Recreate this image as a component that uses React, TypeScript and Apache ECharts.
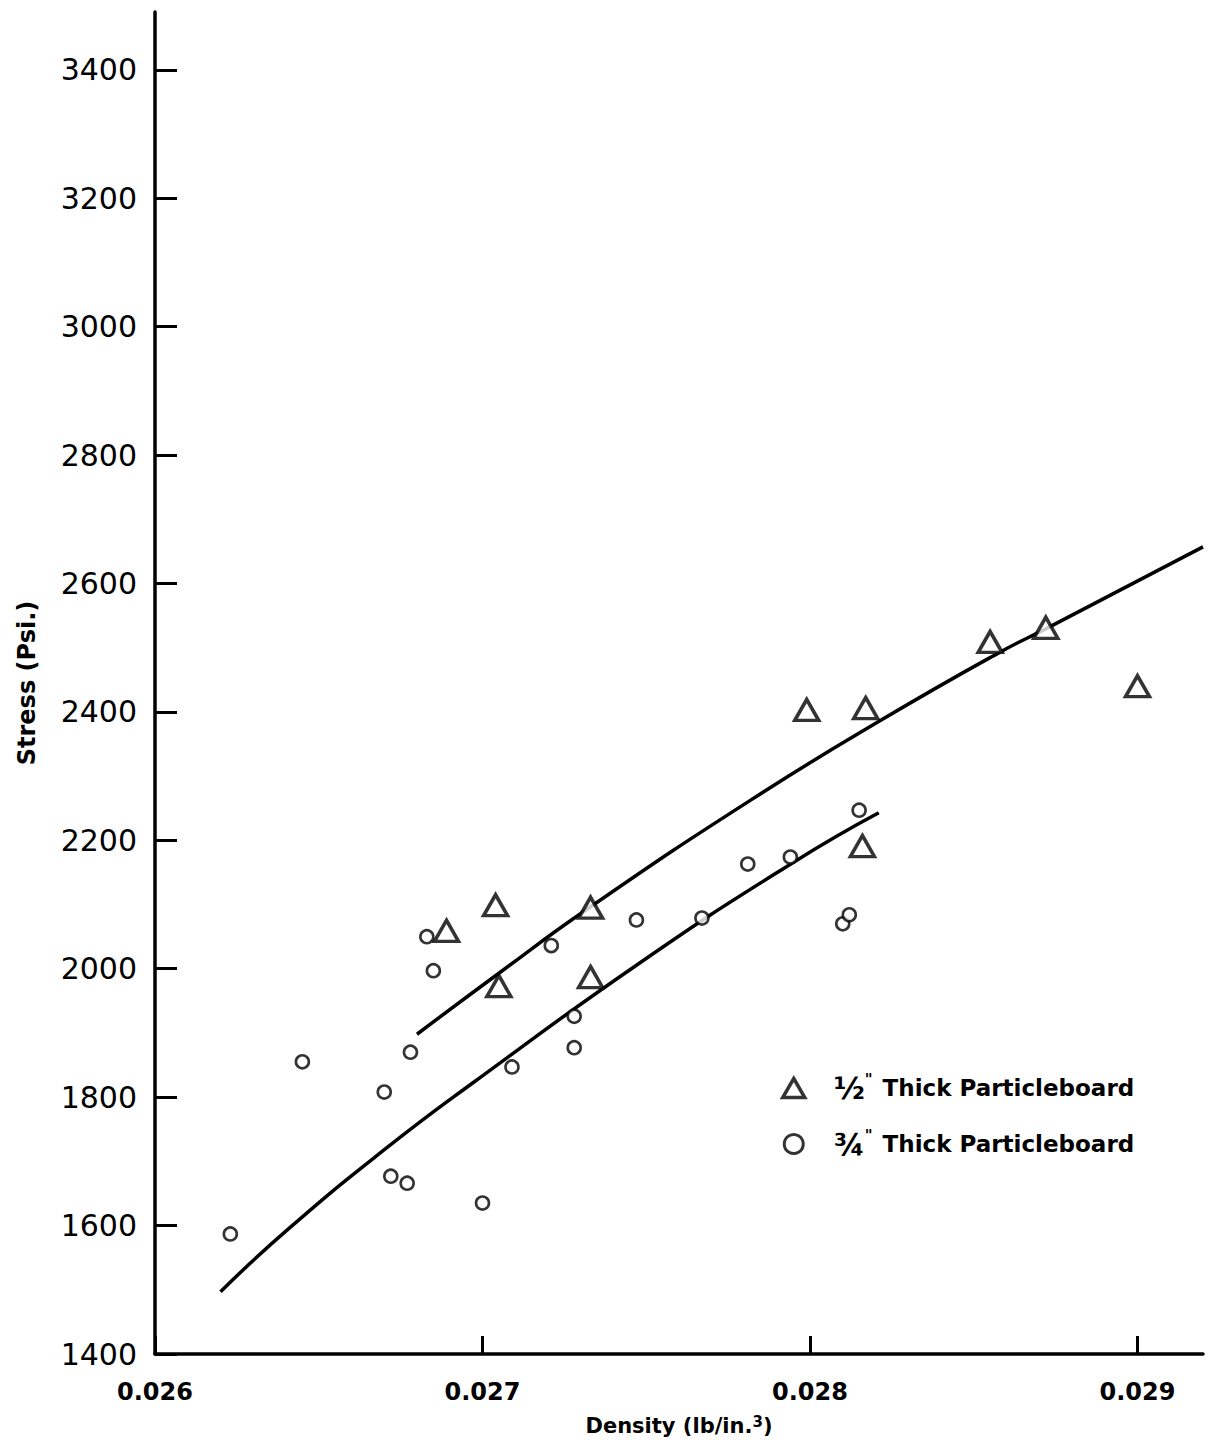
import React, { useEffect, useRef } from 'react';
import * as echarts from 'echarts';

// ---- Data ----
const xTicks = [0.026, 0.027, 0.028, 0.029];
const yTicks = [1400, 1600, 1800, 2000, 2200, 2400, 2600, 2800, 3000, 3200, 3400];

const HALF = '1/2" Thick Particleboard';
const THREE_Q = '3/4" Thick Particleboard';

// 1/2" thick particleboard (triangles)
const halfDensity = [0.02689, 0.02704, 0.02705, 0.02733, 0.02733, 0.02799, 0.02817, 0.02816, 0.02855, 0.02872, 0.029];
const halfStress = [2059, 2099, 1973, 2095, 1987, 2403, 2406, 2191, 2509, 2531, 2440];

// 3/4" thick particleboard (circles)
const tqDensity = [0.02623, 0.02645, 0.0267, 0.02672, 0.02677, 0.02678, 0.02683, 0.02685, 0.027, 0.02709, 0.02721, 0.02728, 0.02728, 0.02747, 0.02767, 0.02781, 0.02794, 0.0281, 0.02812, 0.02815];
const tqStress = [1587, 1855, 1808, 1677, 1666, 1870, 2050, 1997, 1635, 1847, 2036, 1926, 1877, 2076, 2079, 2163, 2174, 2070, 2084, 2247];

// Fitted curves
const halfFitDensity = [0.0268, 0.02705, 0.02732, 0.02782, 0.02822, 0.02858, 0.02873, 0.0292];
const halfFitStress = [1898, 1993, 2093, 2263, 2388, 2493, 2532, 2657];
const tqFitDensity = [0.0262, 0.02641, 0.02671, 0.02697, 0.02748, 0.02795, 0.02821];
const tqFitStress = [1497, 1596, 1722, 1822, 2009, 2166, 2243];

const zip = (a: number[], b: number[]) => a.map((v, i) => [v, b[i]]);

const FONT = 'DejaVu Sans';

export default function App() {
  const ref = useRef<HTMLDivElement>(null);

  useEffect(() => {
    if (!ref.current) return;
    const chart = echarts.init(ref.current, undefined, { renderer: 'svg' });
    chart.setOption({
      animation: false,
      backgroundColor: '#ffffff',
      grid: { left: 155, right: 6, top: 12, bottom: 89, outerBoundsMode: 'none' },
      xAxis: {
        type: 'value',
        min: xTicks[0],
        max: 0.0292,
        interval: 0.001,
        name: 'Density (lb/in.{sup|3})',
        nameLocation: 'middle',
        nameGap: 60,
        nameTextStyle: {
          fontFamily: FONT,
          fontWeight: 'bold',
          fontSize: 21,
          color: '#000',
          rich: {
            sup: { fontFamily: FONT, fontWeight: 'bold', fontSize: 15, color: '#000', verticalAlign: 'top', padding: [0, 0, 8, 0] },
          },
        },
        axisLine: { show: true, onZero: false, lineStyle: { color: '#000', width: 3.5 } },
        axisTick: { show: true, inside: true, length: 18, lineStyle: { color: '#000', width: 3 } },
        axisLabel: {
          showMaxLabel: false,
          margin: 26,
          fontFamily: FONT,
          fontWeight: 'bold',
          fontSize: 24,
          color: '#000',
          formatter: (v: number) => {
            const t = xTicks.find((k) => Math.abs(k - v) < 1e-7);
            return t === undefined ? '' : t.toFixed(3);
          },
        },
        splitLine: { show: false },
      },
      yAxis: {
        type: 'value',
        min: yTicks[0],
        max: 3490,
        interval: 200,
        name: 'Stress (Psi.)',
        nameLocation: 'middle',
        nameGap: 116,
        nameTextStyle: { fontFamily: FONT, fontWeight: 'bold', fontSize: 24, color: '#000' },
        axisLine: { show: true, onZero: false, lineStyle: { color: '#000', width: 3.5 } },
        axisTick: { show: true, inside: true, length: 22, lineStyle: { color: '#000', width: 3 } },
        axisLabel: {
          showMaxLabel: false,
          margin: 18,
          fontFamily: FONT,
          fontSize: 30,
          color: '#000',
          formatter: (v: number) => (yTicks.includes(v) ? String(v) : ''),
        },
        splitLine: { show: false },
      },
      legend: {
        orient: 'vertical',
        left: 776,
        top: 1067,
        itemWidth: 22,
        itemHeight: 19,
        itemGap: 25,
        data: [
          { name: HALF, icon: 'triangle', itemStyle: { color: '#ffffff', borderColor: '#000', borderWidth: 3.5 } },
          { name: THREE_Q, icon: 'circle', itemStyle: { color: '#ffffff', borderColor: '#000', borderWidth: 3 } },
        ],
        formatter: (name: string) =>
          name === HALF ? '{f|½}{q|"}{t|Thick Particleboard}' : '{f|¾}{q|"}{t|Thick Particleboard}',
        textStyle: {
          rich: {
            f: { fontFamily: FONT, fontWeight: 'bold', fontSize: 30, color: '#000', padding: [0, 0, 0, 24], lineHeight: 32 },
            q: { fontFamily: FONT, fontWeight: 'bold', fontSize: 15, color: '#000', verticalAlign: 'top', padding: [0, 0, 0, 0] },
            t: { fontFamily: FONT, fontWeight: 'bold', fontSize: 23, color: '#000', padding: [0, 0, 0, 10] },
          },
        },
      },
      series: [
        {
          name: HALF,
          type: 'scatter',
          symbol: 'triangle',
          symbolSize: [24, 21],
          itemStyle: { color: '#ffffff', borderColor: '#000', borderWidth: 3.5 },
          data: zip(halfDensity, halfStress),
          z: 3,
        },
        {
          name: THREE_Q,
          type: 'scatter',
          symbol: 'circle',
          symbolSize: 13,
          itemStyle: { color: '#ffffff', borderColor: '#000', borderWidth: 2.6 },
          data: zip(tqDensity, tqStress),
          z: 3,
        },
        {
          name: 'fit-half',
          type: 'line',
          smooth: true,
          showSymbol: false,
          lineStyle: { color: '#000', width: 3.5 },
          data: zip(halfFitDensity, halfFitStress),
          z: 2,
        },
        {
          name: 'fit-threeq',
          type: 'line',
          smooth: true,
          showSymbol: false,
          lineStyle: { color: '#000', width: 3.5 },
          data: zip(tqFitDensity, tqFitStress),
          z: 2,
        },
      ],
    });
    return () => chart.dispose();
  }, []);

  return (
    <div
      ref={ref}
      style={{ position: 'absolute', left: 0, top: 0, width: 1209, height: 1443, background: '#fff' }}
    />
  );
}
